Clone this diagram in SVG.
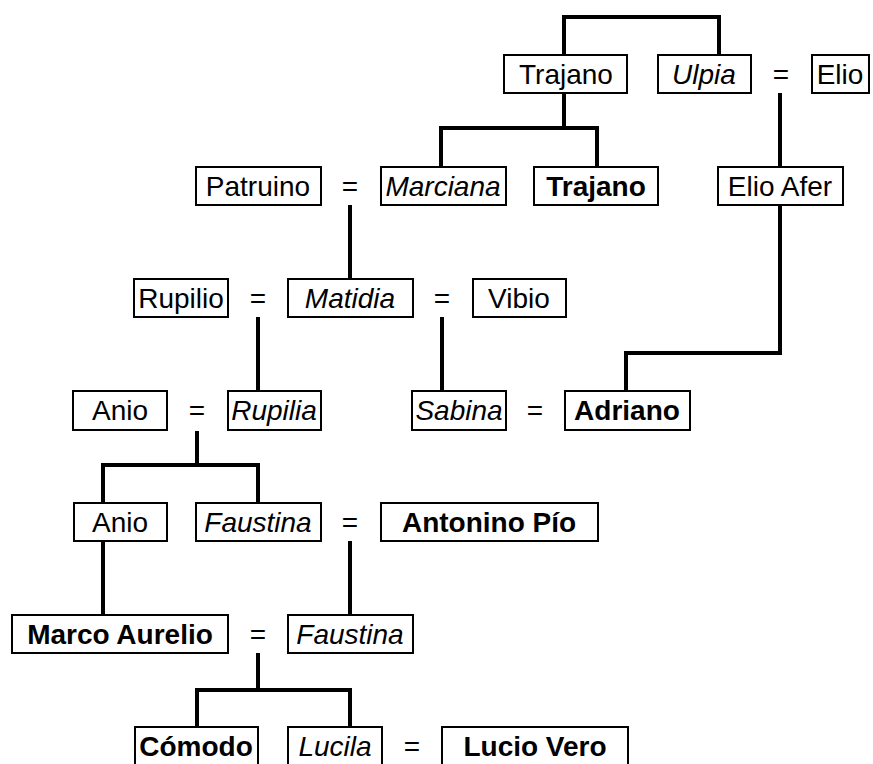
<svg xmlns="http://www.w3.org/2000/svg" width="873" height="764" viewBox="0 0 873 764">
<style>
.b{fill:#fff;stroke:#000;stroke-width:2}
.t{font-family:"Liberation Sans",Arial,sans-serif;font-size:28px;fill:#000;text-anchor:middle}
.r{font-weight:normal}
.i{font-style:italic}
.bd{font-weight:bold}
.c{fill:none;stroke:#000;stroke-width:4;stroke-linecap:butt;stroke-linejoin:miter}
</style>
<rect width="873" height="764" fill="#fff"/>
<g id="connectors">
<path class="c" d="M564,55 V17 H719 V55"/>
<path class="c" d="M564,93 V128 M441,167 V128 H597 V167"/>
<path class="c" d="M780,93 V167"/>
<path class="c" d="M350,205 V279"/>
<path class="c" d="M780,205 V353 H626 V391"/>
<path class="c" d="M258,317 V391"/>
<path class="c" d="M442,317 V391"/>
<path class="c" d="M197,431 V465 M103,503 V465 H258 V503"/>
<path class="c" d="M103,541 V615"/>
<path class="c" d="M350,541 V615"/>
<path class="c" d="M258,653 V690 M197,727 V690 H350 V727"/>
</g>
<g id="n-trajano1"><rect class="b" x="504" y="55" width="123" height="38"/><text class="t r" x="566" y="84">Trajano</text></g>
<g id="n-ulpia"><rect class="b" x="658" y="55" width="93" height="38"/><text class="t i" x="704" y="84">Ulpia</text></g>
<g id="eq-ulpia"><text class="t r" x="781" y="84">=</text></g>
<g id="n-elio"><rect class="b" x="812" y="55" width="57" height="38"/><text class="t r" x="840" y="84">Elio</text></g>

<g id="n-patruino"><rect class="b" x="196" y="167" width="125" height="38"/><text class="t r" x="258" y="196">Patruino</text></g>
<g id="eq-marciana"><text class="t r" x="350" y="196">=</text></g>
<g id="n-marciana"><rect class="b" x="381" y="167" width="125" height="38"/><text class="t i" x="443" y="196">Marciana</text></g>
<g id="n-trajano2"><rect class="b" x="534" y="167" width="124" height="38"/><text class="t bd" x="596" y="196">Trajano</text></g>
<g id="n-elioafer"><rect class="b" x="718" y="167" width="125" height="38"/><text class="t r" x="780" y="196">Elio Afer</text></g>

<g id="n-rupilio"><rect class="b" x="134" y="279" width="94" height="38"/><text class="t r" x="181" y="308">Rupilio</text></g>
<g id="eq-rupilio"><text class="t r" x="258" y="308">=</text></g>
<g id="n-matidia"><rect class="b" x="288" y="279" width="125" height="38"/><text class="t i" x="350" y="308">Matidia</text></g>
<g id="eq-vibio"><text class="t r" x="442" y="308">=</text></g>
<g id="n-vibio"><rect class="b" x="473" y="279" width="93" height="38"/><text class="t r" x="519" y="308">Vibio</text></g>

<g id="n-anio1"><rect class="b" x="73" y="391" width="94" height="39"/><text class="t r" x="120" y="420">Anio</text></g>
<g id="eq-anio1"><text class="t r" x="197" y="420">=</text></g>
<g id="n-rupilia"><rect class="b" x="228" y="391" width="93" height="39"/><text class="t i" x="274" y="420">Rupilia</text></g>
<g id="n-sabina"><rect class="b" x="412" y="391" width="94" height="39"/><text class="t i" x="459" y="420">Sabina</text></g>
<g id="eq-sabina"><text class="t r" x="535" y="420">=</text></g>
<g id="n-adriano"><rect class="b" x="565" y="391" width="125" height="39"/><text class="t bd" x="627" y="420">Adriano</text></g>

<g id="n-anio2"><rect class="b" x="74" y="503" width="93" height="38"/><text class="t r" x="120" y="532">Anio</text></g>
<g id="n-faustina1"><rect class="b" x="196" y="503" width="125" height="38"/><text class="t i" x="258" y="532">Faustina</text></g>
<g id="eq-faustina1"><text class="t r" x="350" y="532">=</text></g>
<g id="n-antonino"><rect class="b" x="381" y="503" width="217" height="38"/><text class="t bd" x="489" y="532">Antonino Pío</text></g>

<g id="n-marco"><rect class="b" x="12" y="615" width="216" height="38"/><text class="t bd" x="120" y="644">Marco Aurelio</text></g>
<g id="eq-marco"><text class="t r" x="258" y="644">=</text></g>
<g id="n-faustina2"><rect class="b" x="288" y="615" width="125" height="38"/><text class="t i" x="350" y="644">Faustina</text></g>

<g id="n-comodo"><rect class="b" x="135" y="727" width="123" height="38"/><text class="t bd" x="196" y="756">Cómodo</text></g>
<g id="n-lucila"><rect class="b" x="288" y="727" width="94" height="38"/><text class="t i" x="335" y="756">Lucila</text></g>
<g id="eq-lucila"><text class="t r" x="412" y="756">=</text></g>
<g id="n-lucio"><rect class="b" x="442" y="727" width="186" height="38"/><text class="t bd" x="535" y="756">Lucio Vero</text></g>
</svg>
